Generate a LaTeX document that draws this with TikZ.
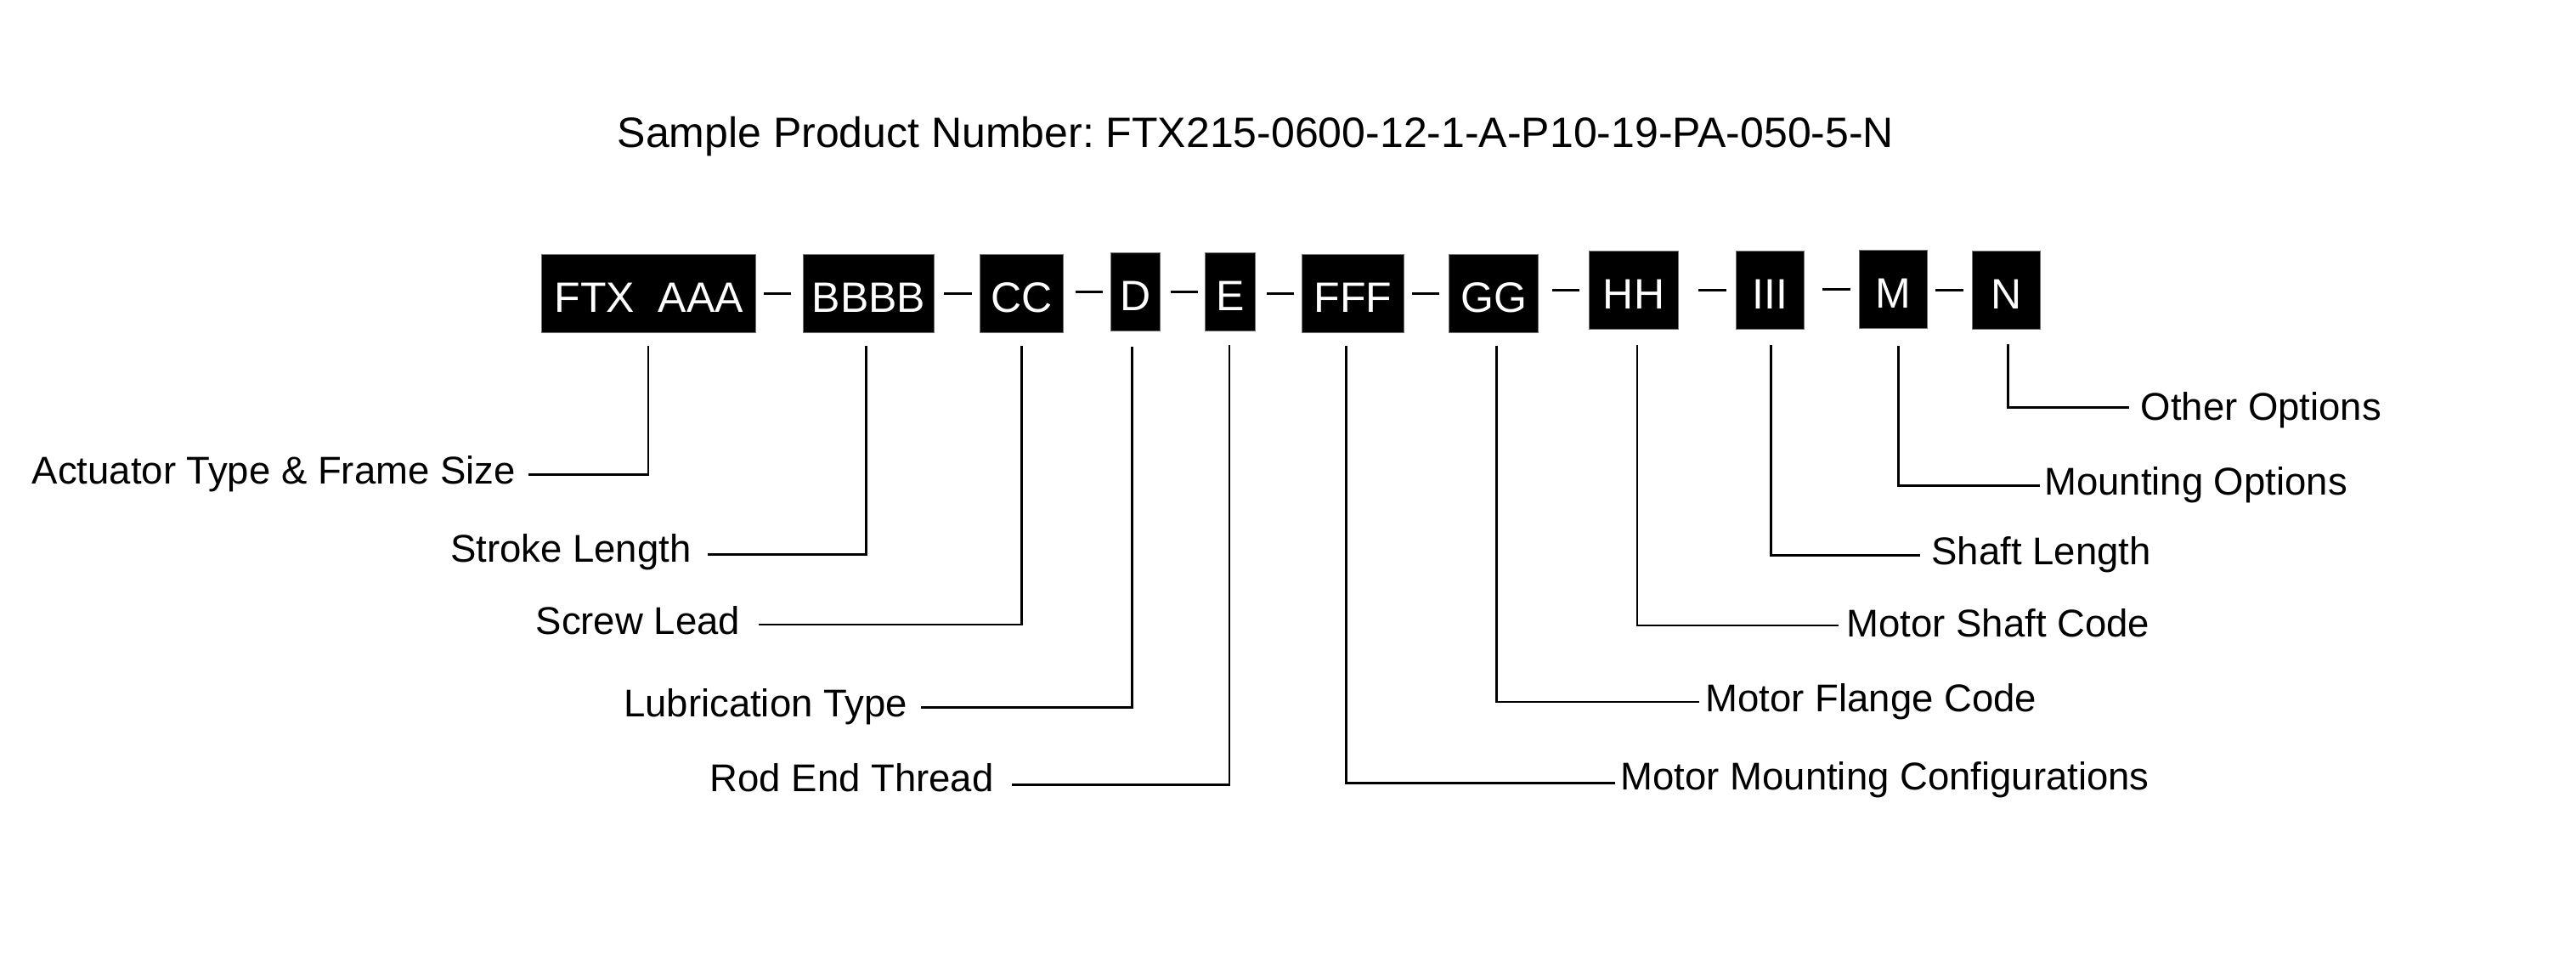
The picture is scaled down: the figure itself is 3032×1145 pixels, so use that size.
\documentclass[tikz,border=0pt]{standalone}
\usepackage{fontspec}
\setmainfont{Liberation Sans}
\frenchspacing
\begin{document}
\begin{tikzpicture}[x=0.2pt,y=-0.2pt,
  cbox/.style={anchor=north west, fill=black, draw=black!55, line width=0.15pt,
    text=white, font=\fontsize{10pt}{12pt}\selectfont, inner sep=0pt,
    text height=13.6pt, text depth=4.8pt, align=center},
  lab/.style={inner sep=0pt, font=\fontsize{9.1pt}{11pt}\selectfont},
  ttl/.style={inner sep=0pt, anchor=base, font=\fontsize{10pt}{12pt}\selectfont},
  conn/.style={draw=black, line width=0.5pt},
  dashline/.style={draw=black, line width=0.6pt}]
\useasboundingbox (0,0) rectangle (3032,1145);

\node[ttl] (title) at (1478,173.3) {Sample Product Number: FTX215-0600-12-1-A-P10-19-PA-050-5-N};

% code boxes
\node[cbox, minimum width=50.4pt]  (A) at (637.3,298.7) {FTX~~AAA};
\node[cbox, minimum width=30.8pt]  (B) at (945,298.7) {BBBB};
\node[cbox, minimum width=19.6pt]  (C) at (1153.3,298.7) {CC};
\node[cbox, minimum width=11.72pt] (D) at (1306.7,297) {D};
\node[cbox, minimum width=11.68pt] (E) at (1418.3,297) {E};
\node[cbox, minimum width=24pt]    (F) at (1532,298.7) {FFF};
\node[cbox, minimum width=20.94pt] (G) at (1705.3,298.7) {GG};
\node[cbox, minimum width=20.94pt] (H) at (1870.3,295.3) {HH};
\node[cbox, minimum width=16.06pt] (I) at (2043,295.3) {III};
\node[cbox, minimum width=15.88pt] (M) at (2188.3,294.3) {M};
\node[cbox, minimum width=15.94pt] (N) at (2321,295.3) {N};

% dashes between boxes
\draw[dashline, shorten <=1.88pt, shorten >=2.74pt] (B.west -| A.east) -- (B.west);
\draw[dashline, shorten <=2.34pt, shorten >=1.86pt] (C.west -| B.east) -- (C.west);
\draw[dashline, shorten <=2.8pt,  shorten >=1.74pt] (D.west -| C.east) -- (D.west);
\draw[dashline, shorten <=2.4pt,  shorten >=1.66pt] (E.west -| D.east) -- (E.west);
\draw[dashline, shorten <=2.66pt, shorten >=1.74pt] (F.west -| E.east) -- (F.west);
\draw[dashline, shorten <=1.94pt, shorten >=2.26pt] (G.west -| F.east) -- (G.west);
\draw[dashline, shorten <=3.2pt,  shorten >=2.26pt] (H.west -| G.east) -- (H.west);
\draw[dashline, shorten <=4.66pt, shorten >=2.26pt] (I.west -| H.east) -- (I.west);
\draw[dashline, shorten <=4.14pt, shorten >=2.12pt] (M.west -| I.east) -- (M.west);
\draw[dashline, shorten <=2pt,    shorten >=2pt]    (N.west -| M.east) -- (N.west);

% labels, left side
\node[lab, anchor=base east] (lA) at (607.7,569.4) {Actuator Type \& Frame Size};
\node[lab, anchor=base east] (lB) at (814.5,661.3) {Stroke Length};
\node[lab, anchor=base east] (lC) at (872,746.2) {Screw Lead};
\node[lab, anchor=base east] (lD) at (1069,843) {Lubrication Type};
\node[lab, anchor=base east] (lE) at (1170.5,931) {Rod End Thread};
% labels, right side
\node[lab, anchor=base west] (lF) at (1906.6,929.2) {Motor Mounting Configurations};
\node[lab, anchor=base west] (lG) at (2006.6,837.3) {Motor Flange Code};
\node[lab, anchor=base west] (lH) at (2172.6,749.3) {Motor Shaft Code};
\node[lab, anchor=base west] (lI) at (2272.6,665) {Shaft Length};
\node[lab, anchor=base west] (lM) at (2405.2,582.8) {Mounting Options};
\node[lab, anchor=base west] (lN) at (2518.8,494.8) {Other Options};

% free ends of the leader lines next to the labels
\coordinate (eA) at (622,558.7);
\coordinate (eB) at (832.5,652.5);
\coordinate (eC) at (892.8,734.8);
\coordinate (eD) at (1084,832.7);
\coordinate (eE) at (1191,923.4);
\coordinate (eF) at (1900.6,921.5);
\coordinate (eG) at (2000.2,825.8);
\coordinate (eH) at (2164.4,735.9);
\coordinate (eI) at (2260,653.6);
\coordinate (eM) at (2400.8,571.3);
\coordinate (eN) at (2506.3,479.5);

% leader lines
\draw[conn] ([xshift=-0.12pt,yshift=-3.1pt]A.south) |- (eA);
\draw[conn] ([xshift=-0.54pt,yshift=-3.06pt]B.south) |- (eB);
\draw[conn] ([xshift=0pt,yshift=-3.06pt]C.south) |- (eC);
\draw[conn] ([xshift=-0.8pt,yshift=-3.66pt]D.south) |- (eD);
\draw[conn] ([xshift=-0.16pt,yshift=-3.26pt]E.south) |- (eE);
\draw[conn] ([xshift=-1.6pt,yshift=-3.06pt]F.south) |- (eF);
\draw[conn] ([xshift=0.67pt,yshift=-3.06pt]G.south) |- (eG);
\draw[conn] ([xshift=0.8pt,yshift=-3.6pt]H.south) |- (eH);
\draw[conn] ([xshift=0.23pt,yshift=-3.6pt]I.south) |- (eI);
\draw[conn] ([xshift=1.2pt,yshift=-3.94pt]M.south) |- (eM);
\draw[conn] ([xshift=0.49pt,yshift=-3.4pt]N.south) |- (eN);
\end{tikzpicture}
\end{document}
